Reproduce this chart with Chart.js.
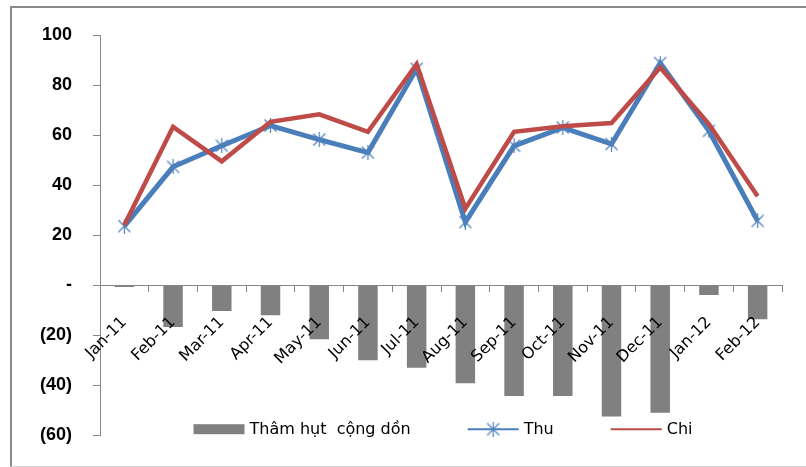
<!DOCTYPE html>
<html>
<head>
<meta charset="utf-8">
<script src="https://cdn.jsdelivr.net/npm/chart.js@4.4.1/dist/chart.umd.min.js"></script>
<style>
  html, body { margin: 0; padding: 0; background: #fff; }
  #wrap { position: relative; width: 806px; height: 467px; overflow: hidden; }
  #frame {
    position: absolute; left: 10px; top: 6px; width: 820px; height: 458px;
    border-left: 2px solid #8a8a8a; border-top: 2px solid #8a8a8a; border-bottom: 1px solid #d4d4d4;
  }
  canvas { position: absolute; left: 0; top: 0; }
</style>
</head>
<body>
<div id="wrap">
  <div id="frame"></div>
  <canvas id="c" width="806" height="467" style="width:806px;height:467px"></canvas>
</div>
<script>
// Monthly revenue (Thu), spending (Chi) and cumulative deficit
const months = ['Jan-11', 'Feb-11', 'Mar-11', 'Apr-11', 'May-11', 'Jun-11', 'Jul-11',
                'Aug-11', 'Sep-11', 'Oct-11', 'Nov-11', 'Dec-11', 'Jan-12', 'Feb-12'];
const deficit = [-0.7, -16.7, -10.3, -12, -21.6, -30, -33, -39.2, -44.3, -44.3, -52.5, -51, -3.9, -13.6];
const thu = [23.6, 47.3, 55.7, 63.8, 58.2, 53, 86.5, 25.2, 55.7, 63, 56.4, 88.8, 61.7, 25.7];
const chi = [24, 63.3, 49.5, 65.3, 68.3, 61.3, 88.4, 30.6, 61.3, 63.5, 64.8, 87, 64.4, 35.5];
const yTicks = [-60, -40, -20, 0, 20, 40, 60, 80, 100];

const labels = { deficit: 'Thâm hụt  cộng dồn', thu: 'Thu', chi: 'Chi' };
const colors = { bar: '#808080', thu: '#4a7ebb', thuMarker: '#4f81bd', chi: '#be4b48', axis: '#868686' };

function tickText(v) {
  if (v === 0) return '-';
  return v < 0 ? '(' + (-v) + ')' : String(v);
}

// asterisk-shaped marker: an X crossed by a vertical stroke
function starMarker(size, color) {
  const c = document.createElement('canvas');
  c.width = size; c.height = size;
  const g = c.getContext('2d');
  g.strokeStyle = color;
  g.lineWidth = 1.2;
  g.beginPath();
  g.moveTo(1.5, 1.5); g.lineTo(size - 1.5, size - 1.5);
  g.moveTo(size - 1.5, 1.5); g.lineTo(1.5, size - 1.5);
  g.moveTo(size / 2, 0); g.lineTo(size / 2, size);
  g.stroke();
  return c;
}
const thuMarker = starMarker(15, colors.thuMarker);

// legend row drawn inside the plot area, under the bars
const bottomLegend = {
  id: 'bottomLegend',
  afterDraw(chart) {
    const ctx = chart.ctx;
    const area = chart.chartArea;
    const iconW = 51, textGap = 5, itemGap = 57;
    ctx.save();
    ctx.font = '16px "DejaVu Sans"';
    ctx.textBaseline = 'middle';
    ctx.fillStyle = '#000';
    const items = chart.data.datasets.map(ds => ({ ds, tw: ctx.measureText(ds.label).width }));
    let total = 0;
    items.forEach((it, i) => { total += iconW + textGap + it.tw + (i < items.length - 1 ? itemGap : 0); });
    let x = (area.left + area.right) / 2 + 2 - total / 2;
    const y = area.bottom - 6;
    items.forEach(it => {
      const ds = it.ds;
      if (ds.type === 'line') {
        ctx.strokeStyle = ds.borderColor;
        ctx.lineWidth = 2;
        ctx.beginPath();
        ctx.moveTo(x, y); ctx.lineTo(x + iconW, y);
        ctx.stroke();
        if (ds.pointStyle instanceof HTMLCanvasElement) {
          const m = ds.pointStyle;
          ctx.drawImage(m, x + iconW / 2 - m.width / 2, y - m.height / 2);
        }
      } else {
        ctx.fillStyle = ds.backgroundColor;
        ctx.fillRect(x, y - 5, iconW, 10);
      }
      ctx.fillStyle = '#000';
      ctx.fillText(ds.label, x + iconW + textGap, y + 1);
      x += iconW + textGap + it.tw + itemGap;
    });
    ctx.restore();
  }
};

new Chart(document.getElementById('c'), {
  type: 'bar',
  data: {
    labels: months,
    datasets: [
      {
        type: 'bar', label: labels.deficit, data: deficit,
        backgroundColor: colors.bar, borderWidth: 0,
        barPercentage: 0.4, categoryPercentage: 1, order: 3
      },
      {
        type: 'line', label: labels.thu, data: thu,
        borderColor: colors.thu, borderWidth: 5, tension: 0,
        pointStyle: thuMarker, pointRadius: 7, pointHoverRadius: 7,
        backgroundColor: colors.thu, order: 2
      },
      {
        type: 'line', label: labels.chi, data: chi,
        borderColor: colors.chi, borderWidth: 4.5, tension: 0,
        pointRadius: 0, pointHoverRadius: 0, order: 1
      }
    ]
  },
  options: {
    responsive: false,
    animation: false,
    devicePixelRatio: 1,
    layout: { padding: { left: 0, top: 35, right: 24, bottom: 31 } },
    plugins: { legend: { display: false }, tooltip: { enabled: false } },
    scales: {
      x: {
        position: { y: 0 },
        offset: true,
        grid: { display: true, offset: true, drawOnChartArea: false, drawTicks: true, tickLength: 6, color: colors.axis, z: 1 },
        border: { display: true, color: colors.axis, width: 1, z: 1 },
        ticks: {
          z: 1,
          autoSkip: false, maxRotation: 45, minRotation: 45, padding: 22,
          font: { family: 'DejaVu Sans', size: 16 }, color: '#000'
        },
        afterFit(scale) { scale.height = 0; }
      },
      y: {
        min: -60, max: 100,
        afterBuildTicks(scale) { scale.ticks = yTicks.map(v => ({ value: v })); },
        ticks: {
          padding: 21, color: '#000',
          font: { family: 'Liberation Sans', size: 18, weight: 'bold' },
          callback: v => tickText(v)
        },
        grid: { drawOnChartArea: false, drawTicks: true, tickLength: 7, color: colors.axis },
        border: { display: true, color: colors.axis, width: 1 },
        afterFit(scale) { scale.width = 100; }
      }
    }
  },
  plugins: [bottomLegend]
});
</script>
</body>
</html>
